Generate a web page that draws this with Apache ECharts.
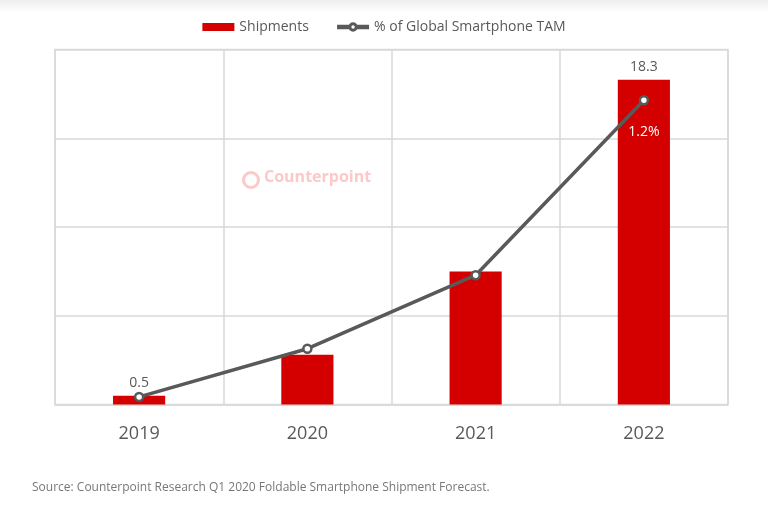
<!DOCTYPE html>
<html>
<head>
<meta charset="utf-8">
<script src="https://cdn.jsdelivr.net/npm/echarts@6/dist/echarts.min.js"></script>
<style>
html,body{margin:0;padding:0;background:#fff;}
#c{width:768px;height:512px;}
</style>
</head>
<body>
<div id="c"></div>
<script>
const categories = ['2019', '2020', '2021', '2022'];
const shipments = [0.5, 2.8, 7.5, 18.3];
const tamShare = [0.03, 0.22, 0.51, 1.2];
const shipmentLabels = ['0.5', '', '', '18.3'];
const tamLabels = ['', '', '', '1.2%'];

const chart = echarts.init(document.getElementById('c'));
chart.setOption({
  animation: false,
  backgroundColor: '#ffffff',
  textStyle: { fontFamily: 'Open Sans' },
  legend: {
    top: 15,
    left: 'center',
    itemGap: 26,
    itemWidth: 32,
    itemHeight: 8,
    textStyle: { color: '#595959', fontSize: 14, fontFamily: 'Open Sans' },
    data: [
      { name: 'Shipments', icon: 'rect' },
      { name: '% of Global Smartphone TAM',
        lineStyle: { width: 4.5, color: '#595959' },
        itemStyle: { color: '#ffffff', borderColor: '#595959', borderWidth: 3 } }
    ]
  },
  grid: {
    left: 55, right: 40, top: 49.5, bottom: 107.5,
    show: true, borderColor: '#d9d9d9', borderWidth: 1.5
  },
  xAxis: {
    type: 'category',
    data: categories,
    axisLine: { lineStyle: { color: '#d9d9d9', width: 1.5 } },
    axisTick: { show: false },
    splitLine: { show: true, lineStyle: { color: '#d9d9d9', width: 1.5 } },
    axisLabel: { color: '#595959', fontSize: 18, margin: 20, fontFamily: 'Open Sans' }
  },
  yAxis: [
    {
      type: 'value', min: 0, max: 20, interval: 5,
      axisLabel: { show: false },
      axisLine: { show: false }, axisTick: { show: false },
      splitLine: { lineStyle: { color: '#d9d9d9', width: 1.5 } }
    },
    {
      type: 'value', min: 0, max: 1.4, interval: 0.35,
      axisLabel: { show: false },
      axisLine: { show: false }, axisTick: { show: false },
      splitLine: { show: false }
    }
  ],
  graphic: [
    {
      type: 'rect', shape: { x: 0, y: 0, width: 768, height: 12 },
      style: { fill: new echarts.graphic.LinearGradient(0, 0, 0, 1, [
        { offset: 0, color: '#eeeeee' }, { offset: 1, color: '#ffffff' }]) },
      silent: true
    },
    {
      type: 'circle', shape: { cx: 251, cy: 180, r: 7.5 },
      style: { fill: 'none', stroke: '#fcc8c8', lineWidth: 3 }
    },
    {
      type: 'text', left: 264, top: 169,
      style: { text: 'Counterpoint', fill: '#fcc8c8', font: 'bold 16px "Open Sans"' }
    },
    {
      type: 'text', left: 32, top: 482,
      style: { text: 'Source: Counterpoint Research Q1 2020 Foldable Smartphone Shipment Forecast.', fill: '#777777', font: '12px "Open Sans"' }
    }
  ],
  series: [
    {
      name: 'Shipments',
      type: 'bar',
      data: shipments,
      barWidth: '31%',
      itemStyle: { color: '#d40000' },
      label: {
        show: true, position: 'top', distance: 6,
        color: '#595959', fontSize: 14, fontFamily: 'Open Sans',
        formatter: p => shipmentLabels[p.dataIndex]
      }
    },
    {
      name: '% of Global Smartphone TAM',
      type: 'line',
      yAxisIndex: 1,
      data: tamShare,
      symbol: 'circle',
      symbolSize: 8,
      z: 5,
      lineStyle: { color: '#595959', width: 3.5 },
      itemStyle: { color: '#ffffff', borderColor: '#595959', borderWidth: 2.5 },
      label: {
        show: true, position: 'bottom', distance: 20,
        color: '#ffffff', fontSize: 14, fontFamily: 'Open Sans',
        formatter: p => tamLabels[p.dataIndex]
      }
    }
  ]
});
</script>
</body>
</html>
